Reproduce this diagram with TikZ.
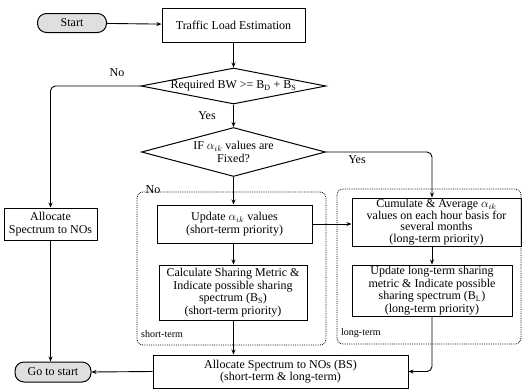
\documentclass[tikz,border=0pt]{standalone}
\usepackage{fontspec}
\setmainfont{Liberation Serif}
\usetikzlibrary{shapes.geometric,arrows.meta}
\begin{document}
\begin{tikzpicture}[x=1pt,y=-1pt,
  every node/.style={font=\fontsize{12}{12.5}\selectfont},
  box/.style={draw, line width=1pt, rectangle, align=center, inner sep=0pt},
  pill/.style={draw, line width=1pt, rounded corners=9pt, fill=gray!25, inner sep=0pt},
  dec/.style={draw, line width=1pt, diamond, inner sep=0pt},
  region/.style={draw, densely dotted, line width=0.8pt, rounded corners=6pt},
  conn/.style={line width=0.9pt, -{Stealth[length=5pt,width=4pt]}, rounded corners=5pt},
  lbl/.style={inner sep=0pt, align=center},
  tag/.style={font=\fontsize{10}{12}\selectfont, inner sep=0pt, anchor=west}]
\useasboundingbox (0,0) rectangle (523,389);

% regions
\draw[region] (137,192) rectangle (326,345);
\draw[region] (337,189) rectangle (521,344);

% nodes
\node[pill, minimum width=69pt, minimum height=19pt] (start) at (72,23) {Start};
\node[box, minimum width=143pt, minimum height=34pt] (traffic) at (233.5,25) {Traffic Load Estimation};
\node[dec, minimum width=185pt, minimum height=36pt] (d1) at (233.5,86) {};
\node[lbl] (d1t) at (d1.center) {Required BW >= B$_\mathrm{D}$ + B$_\mathrm{S}$};
\node[dec, minimum width=184pt, minimum height=49pt] (d2) at (233.5,152) {};
\node[lbl] (d2t) at (d2.center) {IF $\alpha_{ik}$ values are\\Fixed?};
\node[box, minimum width=93pt, minimum height=32pt] (allocL) at (50.5,224) {Allocate\\Spectrum to NOs};
\node[box, minimum width=155pt, minimum height=38pt] (update) at (234.5,224) {Update $\alpha_{ik}$ values\\(short-term priority)};
\node[box, minimum width=148pt, minimum height=55pt] (calc) at (233,292.5) {Calculate Sharing Metric \&\\Indicate possible sharing\\spectrum (B$_\mathrm{S}$)\\(short-term priority)};
\node[box, minimum width=169pt, minimum height=48pt, font=\fontsize{12}{11.5}\selectfont] (cum) at (436.5,222) {Cumulate \& Average $\alpha_{ik}$\\values on each hour basis for\\several months\\(long-term priority)};
\node[box, minimum width=160pt, minimum height=51pt] (upl) at (432,290.5) {Update long-term sharing\\metric \& Indicate possible\\sharing spectrum (B$_\mathrm{L}$)\\(long-term priority)};
\node[box, minimum width=255pt, minimum height=33pt] (allocB) at (280.5,371.5) {Allocate Spectrum to NOs (BS)\\(short-term \& long-term)};
\node[pill, minimum width=76pt, minimum height=20pt] (goto) at (53,372) {Go to start};

% labels
\node[lbl] (no1) at (117,73) {No};
\node[lbl] (yes1) at (207,116) {Yes};
\node[lbl] (yes2) at (357,160) {Yes};
\node[lbl] (no2) at (153,190) {No};
\node[tag] (st) at (141,334) {short-term};
\node[tag] (lt) at (341,333) {long-term};

% connectors
\draw[conn] (start) -- (traffic);
\draw[conn] (traffic.south) -- (traffic.south |- d1.north);
\draw[conn] (d1.west) -| (allocL.north);
\draw[conn] (d1.south) -- (d2.north);
\draw[conn] (d2.east) -| (upl.north |- cum.north);
\draw[conn] (d2.south) -- (d2.south |- update.north);
\draw[conn] (update.east) -- (update.east -| cum.west);
\draw[conn] (d2.south |- update.south) -- (d2.south |- calc.north);
\draw[conn] (upl.north |- cum.south) -- (upl.north);
\draw[conn] (d2.south |- calc.south) -- (d2.south |- allocB.north);
\draw[conn] (upl.south) |- (allocB.east);
\draw[conn] (allocL.south) -- (allocL.south |- goto.north);
\draw[conn] (allocB.west) -- (goto.east);
\end{tikzpicture}
\end{document}
